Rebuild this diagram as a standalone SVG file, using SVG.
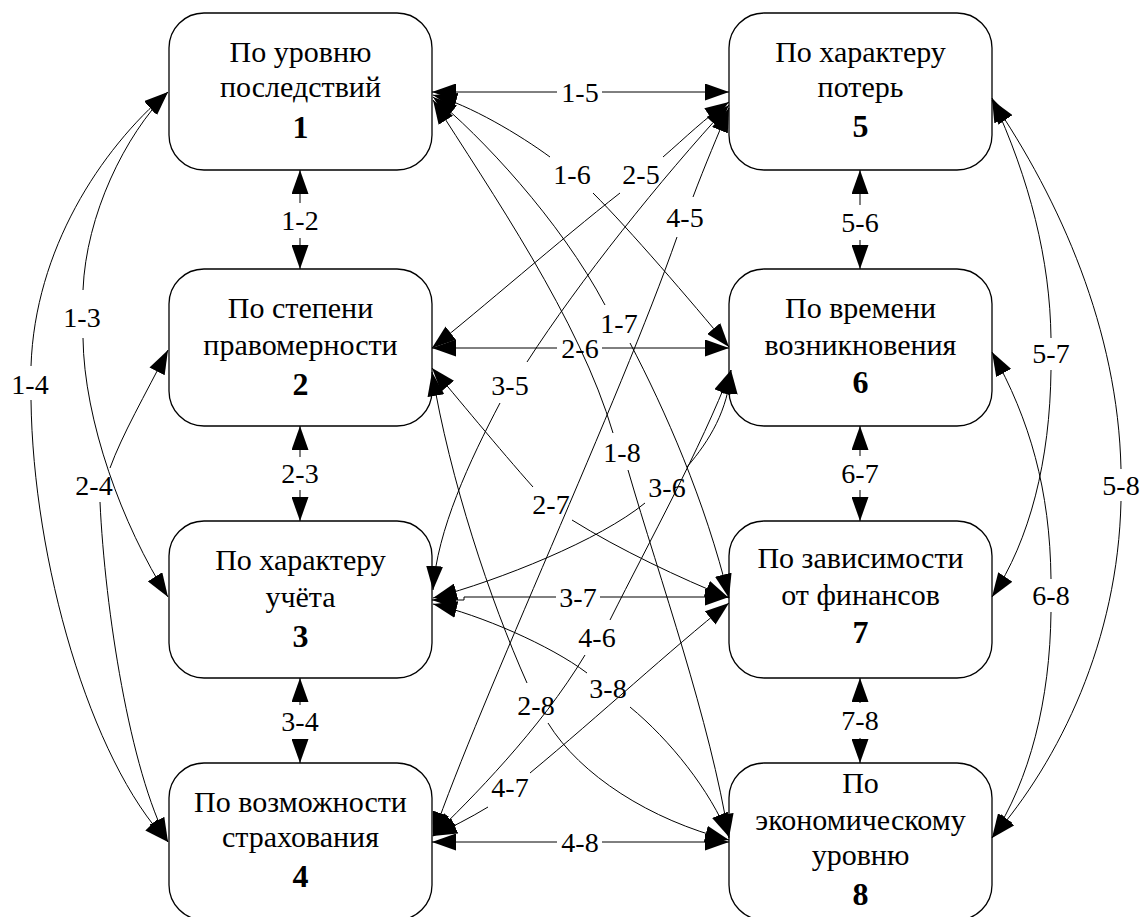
<svg xmlns="http://www.w3.org/2000/svg" width="1143" height="917" viewBox="0 0 1143 917">
<defs>
<marker id="a" markerUnits="userSpaceOnUse" markerWidth="24" markerHeight="17" refX="24" refY="8.5" orient="auto-start-reverse" viewBox="0 0 24 17"><path d="M0,0 L24,8.5 L0,17 z" fill="#000"/></marker>
</defs>
<style>
.n rect{fill:#fff;stroke:#000;stroke-width:1.3}
.n text{font-family:'Times New Roman','Liberation Serif',serif;font-size:30px;text-anchor:middle;fill:#000}
.n text.num{font-family:'Liberation Serif','Times New Roman',serif;font-weight:bold;font-size:32px}
.e{fill:none;stroke:#000;stroke-width:1}
.s{marker-start:url(#a)}
.t{marker-end:url(#a)}
.l{font-family:'Times New Roman','Liberation Serif',serif;font-size:28px;text-anchor:middle;fill:#000}
</style>
<rect width="1143" height="917" fill="#fff"/>
<g id="nodes">
<g id="n1" class="n"><rect x="169" y="13" width="263" height="157" rx="35"/><text x="300.5" y="62">По уровню</text><text x="300.5" y="97">последствий</text><text class="num" x="300.5" y="138">1</text></g>
<g id="n2" class="n"><rect x="169" y="269" width="263" height="157" rx="35"/><text x="300.5" y="318">По степени</text><text x="300.5" y="355">правомерности</text><text class="num" x="300.5" y="395">2</text></g>
<g id="n3" class="n"><rect x="169" y="521" width="263" height="157" rx="35"/><text x="300.5" y="570">По характеру</text><text x="300.5" y="607">учёта</text><text class="num" x="300.5" y="647">3</text></g>
<g id="n4" class="n"><rect x="169" y="763" width="263" height="157" rx="35"/><text x="300.5" y="812">По возможности</text><text x="300.5" y="847">страхования</text><text class="num" x="300.5" y="887">4</text></g>
<g id="n5" class="n"><rect x="729" y="13" width="263" height="157" rx="35"/><text x="860.5" y="62">По характеру</text><text x="860.5" y="97">потерь</text><text class="num" x="860.5" y="137">5</text></g>
<g id="n6" class="n"><rect x="729" y="269" width="263" height="157" rx="35"/><text x="860.5" y="318">По времени</text><text x="860.5" y="355">возникновения</text><text class="num" x="860.5" y="393">6</text></g>
<g id="n7" class="n"><rect x="729" y="521" width="263" height="157" rx="35"/><text x="860.5" y="568">По зависимости</text><text x="860.5" y="605">от финансов</text><text class="num" x="860.5" y="643">7</text></g>
<g id="n8" class="n"><rect x="729" y="763" width="263" height="157" rx="35"/><text x="860.5" y="793">По</text><text x="860.5" y="830">экономическому</text><text x="860.5" y="865">уровню</text><text class="num" x="860.5" y="905">8</text></g>
</g>
<g id="connectors">
<g id="e1-2"><path class="e s" d="M300,170 L300,203"/><path class="e t" d="M300,238 L300,269"/><text class="l" x="300" y="229.5">1-2</text></g>
<g id="e2-3"><path class="e s" d="M300,426 L300,457"/><path class="e t" d="M300,490 L300,521"/><text class="l" x="300" y="482.5">2-3</text></g>
<g id="e3-4"><path class="e s" d="M300,678 L300,705"/><path class="e t" d="M300,739 L300,763"/><text class="l" x="300" y="730.5">3-4</text></g>
<g id="e5-6"><path class="e s" d="M860,170 L860,205"/><path class="e t" d="M860,240 L860,269"/><text class="l" x="860" y="231.5">5-6</text></g>
<g id="e6-7"><path class="e s" d="M860,426 L860,456"/><path class="e t" d="M860,490 L860,521"/><text class="l" x="860" y="482.5">6-7</text></g>
<g id="e7-8"><path class="e s" d="M860,678 L860,703"/><path class="e t" d="M860,738 L860,763"/><text class="l" x="860" y="729.5">7-8</text></g>
<g id="e1-5"><path class="e s" d="M432,92 L557,92"/><path class="e t" d="M602,92 L729,92"/><text class="l" x="580" y="101.5">1-5</text></g>
<g id="e2-6"><path class="e s" d="M432,348 L557,348"/><path class="e t" d="M602,348 L729,348"/><text class="l" x="580" y="357.5">2-6</text></g>
<g id="e3-7"><path class="e s" d="M432,600 L464,600 L464,597 L556,597"/><path class="e t" d="M600,597 L729,597"/><text class="l" x="578" y="606.5">3-7</text></g>
<g id="e4-8"><path class="e s" d="M432,842 L557,842"/><path class="e t" d="M602,842 L729,842"/><text class="l" x="580" y="851.5">4-8</text></g>
<g id="e1-3"><path class="e s" d="M168,92 C125,135 86,215 83,290"/><path class="e t" d="M83,338 C84,420 122,525 168,597"/><text class="l" x="82" y="326.5">1-3</text></g>
<g id="e1-4"><path class="e s" d="M168,92 C100,150 35,250 31,366"/><path class="e t" d="M31,400 C33,560 90,760 168,842"/><text class="l" x="30" y="393.5">1-4</text></g>
<g id="e2-4"><path class="e s" d="M168,350 C145,395 122,435 110,468"/><path class="e t" d="M100,502 C105,610 130,770 168,842"/><text class="l" x="94" y="494.5">2-4</text></g>
<g id="e1-6"><path class="e s" d="M433,95 C470,105 520,135 550,157"/><path class="e t" d="M593,193 C630,230 690,300 729,347"/><text class="l" x="572" y="183.5">1-6</text></g>
<g id="e1-7"><path class="e s" d="M433,97 C480,135 560,220 605,305"/><path class="e t" d="M630,343 C665,410 705,500 729,598"/><text class="l" x="619" y="332.5">1-7</text></g>
<g id="e1-8"><path class="e s" d="M433,100 C490,190 580,320 613,433"/><path class="e t" d="M628,470 C660,580 710,720 729,838"/><text class="l" x="622" y="461.5">1-8</text></g>
<g id="e2-5"><path class="e s" d="M432,348 C480,310 560,240 620,193"/><path class="e t" d="M663,157 C685,138 705,118 729,102"/><text class="l" x="641" y="183.5">2-5</text></g>
<g id="e3-5"><path class="e s" d="M433,590 C437,530 470,460 500,403"/><path class="e t" d="M527,362 C580,280 660,180 729,105"/><text class="l" x="510" y="394.5">3-5</text></g>
<g id="e4-5"><path class="e s" d="M433,836 C480,700 620,400 677,237"/><path class="e t" d="M693,197 C705,165 718,135 729,108"/><text class="l" x="685" y="226.5">4-5</text></g>
<g id="e3-6"><path class="e s" d="M433,598 C500,580 600,540 645,503"/><path class="e t" d="M687,467 C710,440 728,410 731,370"/><text class="l" x="667" y="496.5">3-6</text></g>
<g id="e4-6"><path class="e s" d="M433,836 C470,800 540,730 585,655"/><path class="e t" d="M610,620 C650,540 700,450 731,370"/><text class="l" x="597" y="646.5">4-6</text></g>
<g id="e2-7"><path class="e s" d="M432,368 C455,395 500,450 533,487"/><path class="e t" d="M572,520 C620,550 680,578 729,598"/><text class="l" x="551" y="513.5">2-7</text></g>
<g id="e2-8"><path class="e s" d="M432,372 C450,480 490,600 527,683"/><path class="e t" d="M548,723 C580,775 650,820 729,840"/><text class="l" x="536" y="714.5">2-8</text></g>
<g id="e3-8"><path class="e s" d="M433,604 C480,615 550,645 587,673"/><path class="e t" d="M630,707 C670,740 710,790 729,837"/><text class="l" x="608" y="697.5">3-8</text></g>
<g id="e4-7"><path class="e s" d="M433,836 C450,828 470,818 488,807"/><path class="e t" d="M530,773 C600,715 670,650 729,603"/><text class="l" x="510" y="796.5">4-7</text></g>
<g id="e5-7"><path class="e s" d="M992,98 C1030,180 1050,260 1051,338"/><path class="e t" d="M1051,370 C1050,460 1030,540 992,597"/><text class="l" x="1051" y="362.5">5-7</text></g>
<g id="e5-8"><path class="e s" d="M992,100 C1060,200 1118,330 1121,469"/><path class="e t" d="M1121,501 C1118,640 1060,760 992,838"/><text class="l" x="1121" y="494.5">5-8</text></g>
<g id="e6-8"><path class="e s" d="M992,352 C1030,420 1050,490 1051,579"/><path class="e t" d="M1051,612 C1050,700 1030,780 992,838"/><text class="l" x="1051" y="604.5">6-8</text></g>
</g>
</svg>
